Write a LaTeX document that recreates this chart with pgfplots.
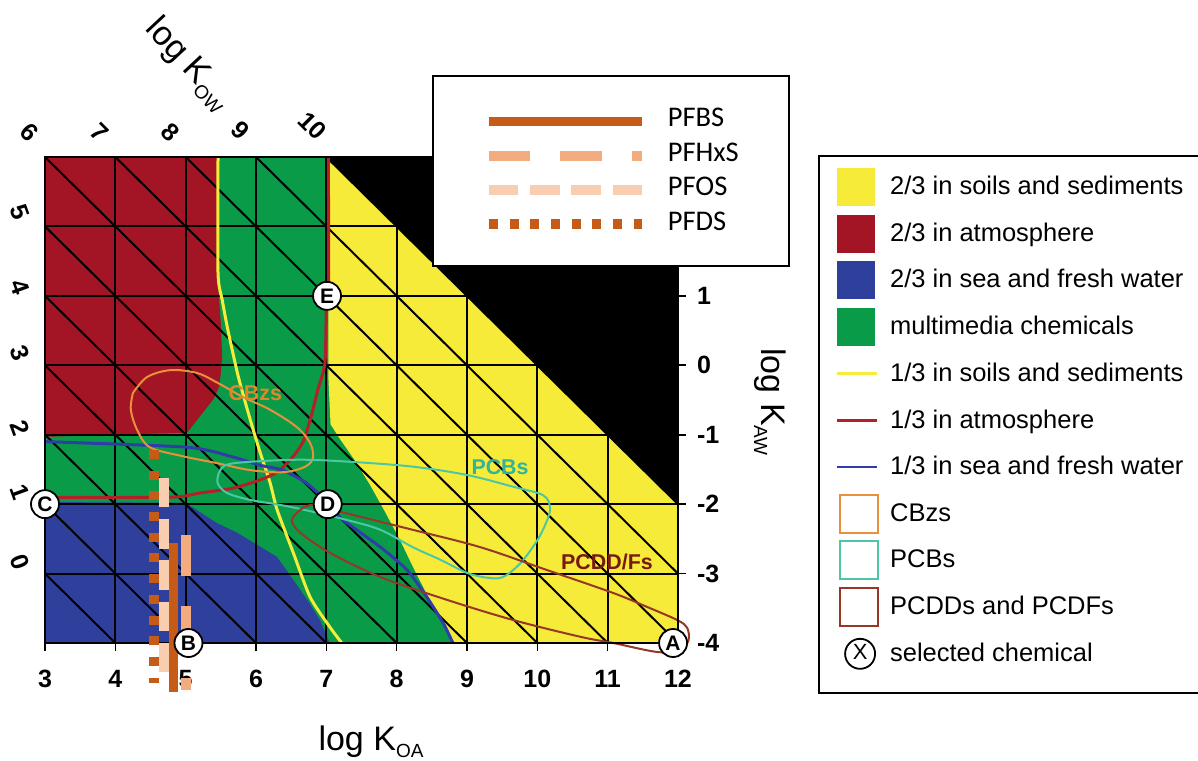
\documentclass[border=0pt]{standalone}
\usepackage{pgfplots}
\pgfplotsset{compat=1.18}
\usepackage{fontspec}
\setmainfont{Liberation Sans}
\newfontfamily\carlito{Carlito}

\definecolor{cyel}{RGB}{246,235,56}
\definecolor{cred}{RGB}{163,20,36}
\definecolor{cblue}{RGB}{46,64,155}
\definecolor{cgreen}{RGB}{10,155,72}
\definecolor{lyel}{RGB}{245,236,60}
\definecolor{lred}{RGB}{178,32,40}
\definecolor{lblue}{RGB}{48,60,170}
\definecolor{ccbz}{RGB}{232,145,60}
\definecolor{cpcb}{RGB}{76,199,166}
\definecolor{cpcdd}{RGB}{150,55,40}
\definecolor{tcbz}{RGB}{222,135,45}
\definecolor{tpcb}{RGB}{50,180,155}
\definecolor{tpcdd}{RGB}{120,25,20}
\definecolor{pfdark}{RGB}{198,90,23}
\definecolor{pfmid}{RGB}{242,172,128}
\definecolor{pflight}{RGB}{248,205,176}

\newcommand{\lf}{\fontsize{10.5}{11}\selectfont\bfseries}
\newcommand{\kf}{\fontsize{12.5}{14}\selectfont\bfseries}
\pgfplotsset{
  gridl/.style={black, line width=1pt, forget plot},
  legfill/.style={legend image code/.code={\path[draw=none,fill=none] (0pt,-11.675pt) rectangle (26.5pt,11.675pt); \fill[#1, draw=none] (0pt,-9.5pt) rectangle (19pt,9.5pt);}},
  legline/.style={legend image code/.code={\path[draw=none,fill=none] (0pt,-11.675pt) rectangle (26.5pt,11.675pt); \draw[#1, fill=none, line width=1.3pt] (0pt,0pt) -- (20pt,0pt);}},
  legopen/.style={legend image code/.code={\path[draw=none,fill=none] (0pt,-11.675pt) rectangle (26.5pt,11.675pt); \draw[#1, fill=none, line width=1pt] (1.5pt,-9.5pt) rectangle (20.5pt,9.5pt);}},
}

\begin{document}
\begin{tikzpicture}
\useasboundingbox (-22.5pt,-58.5pt) rectangle (576.5pt,321.5pt);
\begin{axis}[
  at={(0pt,0pt)}, anchor=south west,
  scale only axis, width=316.5pt, height=243pt,
  xmin=3, xmax=12, ymin=-4, ymax=3,
  clip=false, axis on top,
  axis line style={line width=1.2pt},
  xtick={3,4,5,6,7,8,9,10,11,12}, ytick={-4,-3,-2,-1,0,1},
  xtick pos=left, ytick pos=right,
  tick align=outside,
  major tick length=4pt,
  tick style={line width=0.8pt, black},
  tick label style={font=\kf},
  xticklabel style={yshift=-6pt},
  yticklabel style={xshift=2pt},
  /pgf/number format/assume math mode=true,
  legend cell align=left,
  legend style={at={(1.2212,1.0041)}, anchor=north west, draw=black, line width=0.8pt, fill=white,
    inner xsep=8.5pt, inner ysep=3pt, row sep=0pt, column sep=0pt,
    font=\fontsize{12.75}{14}\selectfont, nodes={inner sep=0pt}},
]
% regions
\addplot[fill=cgreen, draw=none, forget plot] coordinates {(3,-4) (12,-4) (12,3) (3,3)} -- cycle;
\addplot[fill=cred, draw=none, forget plot] coordinates {(3,3) (5.45,3) (5.46,1.2) (5.50,0.6) (5.52,0.1) (5.48,-0.3) (5.40,-0.48) (5.20,-0.74) (5.02,-0.97) (3,-1.03)} -- cycle;
\addplot[fill=cblue, draw=none, forget plot] coordinates {(3,-4) (3,-1.97) (5.0,-1.98) (5.44,-2.27) (5.73,-2.41) (6.30,-2.76) (6.53,-3.09) (6.73,-3.38) (6.91,-3.67) (7.05,-4)} -- cycle;
\addplot[fill=cyel, draw=none, forget plot] coordinates {(7.03,3) (12,3) (12,-4) (8.80,-4) (8.66,-3.71) (8.43,-3.30) (8.23,-2.90) (8.05,-2.52) (7.84,-2.12) (7.62,-1.72) (7.40,-1.36) (7.20,-1.07) (7.06,-0.85) (7.03,-0.2)} -- cycle;
\addplot[fill=black, draw=none, forget plot] coordinates {(7,3) (12,3) (12,-2)} -- cycle;
% grid
\addplot[gridl] coordinates {(4,-4) (4,3)};
\addplot[gridl] coordinates {(5,-4) (5,3)};
\addplot[gridl] coordinates {(6,-4) (6,3)};
\addplot[gridl] coordinates {(7,-4) (7,3)};
\addplot[gridl] coordinates {(8,-4) (8,2)};
\addplot[gridl] coordinates {(9,-4) (9,1)};
\addplot[gridl] coordinates {(10,-4) (10,0)};
\addplot[gridl] coordinates {(11,-4) (11,-1)};
\addplot[gridl] coordinates {(3,-3) (12,-3)};
\addplot[gridl] coordinates {(3,-2) (12,-2)};
\addplot[gridl] coordinates {(3,-1) (11,-1)};
\addplot[gridl] coordinates {(3,0) (10,0)};
\addplot[gridl] coordinates {(3,1) (9,1)};
\addplot[gridl] coordinates {(3,2) (8,2)};
\addplot[gridl] coordinates {(3,-3) (4,-4)};
\addplot[gridl] coordinates {(3,-2) (5,-4)};
\addplot[gridl] coordinates {(3,-1) (6,-4)};
\addplot[gridl] coordinates {(3,0) (7,-4)};
\addplot[gridl] coordinates {(3,1) (8,-4)};
\addplot[gridl] coordinates {(3,2) (9,-4)};
\addplot[gridl] coordinates {(3,3) (10,-4)};
\addplot[gridl] coordinates {(4,3) (11,-4)};
\addplot[gridl] coordinates {(5,3) (12,-4)};
\addplot[gridl] coordinates {(6,3) (12,-3)};
\addplot[gridl] coordinates {(7,3) (12,-2)};
% one-third lines
\addplot[lyel, line width=1.5pt, smooth, tension=0.4, forget plot] coordinates {(5.46,3) (5.46,1.33) (5.52,0.94) (5.60,0.51) (5.75,-0.17) (5.92,-0.79) (6.06,-1.26) (6.20,-1.69) (6.30,-2.08) (6.53,-2.70) (6.77,-3.34) (7.05,-3.77) (7.22,-4)};
\addplot[lred, line width=1.5pt, smooth, tension=0.4, forget plot] coordinates {(7.03,3) (7.03,1) (7.0,0.80) (6.98,0.03) (6.88,-0.35) (6.77,-0.79) (6.66,-1.12) (6.49,-1.36) (6.30,-1.54) (6.06,-1.65) (5.67,-1.77) (5.20,-1.84) (4.78,-1.90) (3,-1.90)};
\addplot[lblue, line width=1.5pt, smooth, tension=0.4, forget plot] coordinates {(3,-1.10) (5.02,-1.18) (5.67,-1.32) (6.06,-1.44) (6.38,-1.51) (6.71,-1.69) (6.94,-1.90) (7.10,-2.08) (7.24,-2.23) (7.77,-2.62) (8.15,-2.95) (8.43,-3.34) (8.66,-3.71) (8.80,-4)};
% contours
\addplot[ccbz, line width=1pt, smooth, tension=0.55, forget plot] coordinates {(4.25,-0.40) (4.45,-0.17) (4.78,-0.07) (5.16,-0.11) (5.45,-0.25) (5.82,-0.46) (6.20,-0.64) (6.58,-0.89) (6.77,-1.12) (6.81,-1.33) (6.70,-1.46) (6.39,-1.54) (5.92,-1.51) (5.45,-1.41) (4.96,-1.31) (4.49,-1.18) (4.31,-0.93) (4.22,-0.64) (4.25,-0.40)};
\addplot[cpcb, line width=1pt, smooth, tension=0.55, forget plot] coordinates {(5.46,-1.59) (5.56,-1.44) (5.92,-1.39) (6.63,-1.36) (7.34,-1.39) (8.23,-1.46) (9.00,-1.58) (9.66,-1.75) (10.08,-1.87) (10.18,-2.04) (10.14,-2.23) (10.00,-2.52) (9.76,-2.85) (9.51,-3.05) (9.29,-3.06) (9.00,-2.99) (8.62,-2.80) (8.23,-2.62) (7.77,-2.37) (7.30,-2.23) (6.81,-2.11) (6.34,-2.01) (5.92,-1.94) (5.59,-1.84) (5.46,-1.71) (5.46,-1.59)};
\addplot[cpcdd, line width=1pt, smooth, tension=0.55, forget plot] coordinates {(6.63,-2.08) (6.81,-2.01) (7.20,-2.11) (8.23,-2.37) (9.19,-2.62) (10.14,-2.95) (11.08,-3.28) (11.56,-3.48) (11.99,-3.67) (12.13,-3.78) (12.15,-3.96) (12.03,-4.10) (11.71,-4.13) (11.08,-4.00) (10.61,-3.91) (9.66,-3.67) (8.72,-3.38) (7.77,-3.05) (7.05,-2.70) (6.63,-2.41) (6.51,-2.23) (6.63,-2.08)};
% contour labels
\node[font=\fontsize{10.7}{12}\selectfont\bfseries, text=tcbz] at (axis cs:5.99,-0.40) {CBzs};
\node[font=\fontsize{10.7}{12}\selectfont\bfseries, text=tpcb] at (axis cs:9.47,-1.46) {PCBs};
\node[font=\fontsize{10.7}{12}\selectfont\bfseries, text=tpcdd] at (axis cs:10.99,-2.83) {PCDD/Fs};
% KOW labels
\node[rotate=-45, font=\kf] at (axis cs:2.78,3.36) {6};
\node[rotate=-45, font=\kf] at (axis cs:3.78,3.36) {7};
\node[rotate=-45, font=\kf] at (axis cs:4.78,3.36) {8};
\node[rotate=-45, font=\kf] at (axis cs:5.78,3.38) {9};
\node[rotate=-45, font=\kf] at (axis cs:6.80,3.45) {10};
\node[rotate=-70, font=\kf] at (axis cs:2.645,2.20) {5};
\node[rotate=-70, font=\kf] at (axis cs:2.645,1.12) {4};
\node[rotate=-70, font=\kf] at (axis cs:2.645,0.18) {3};
\node[rotate=-70, font=\kf] at (axis cs:2.645,-0.90) {2};
\node[rotate=-70, font=\kf] at (axis cs:2.645,-1.82) {1};
\node[rotate=-70, font=\kf] at (axis cs:2.645,-2.83) {0};
% axis titles
\node[font=\fontsize{17}{18}\selectfont] at (axis description cs:0.515,-0.2037) {log K\raisebox{-3.5pt}{\fontsize{9.5}{10}\selectfont OA}};
\node[rotate=-90, font=\fontsize{17}{18}\selectfont] at (axis description cs:1.1453,0.4959) {log K\raisebox{-3.5pt}{\fontsize{9.5}{10}\selectfont AW}};
\node[rotate=-47, font=\fontsize{17}{18}\selectfont] at (axis description cs:0.226,1.191) {log K\raisebox{-3.5pt}{\fontsize{9.5}{10}\selectfont OW}};
% legend
\addlegendimage{legend image code/.code={\path[draw=none,fill=none] (0pt,-11.675pt) rectangle (26.5pt,12.5pt); \fill[cyel, draw=none] (0pt,-9.5pt) rectangle (19pt,9.5pt);}}
\addlegendentry{\makebox[170pt][l]{2/3 in soils and sediments}}
\addlegendimage{legfill=cred}
\addlegendentry{2/3 in atmosphere}
\addlegendimage{legfill=cblue}
\addlegendentry{2/3 in sea and fresh water}
\addlegendimage{legfill=cgreen}
\addlegendentry{multimedia chemicals}
\addlegendimage{legline=lyel}
\addlegendentry{1/3 in soils and sediments}
\addlegendimage{legline=lred}
\addlegendentry{1/3 in atmosphere}
\addlegendimage{legline=lblue}
\addlegendentry{1/3 in sea and fresh water}
\addlegendimage{legopen=ccbz}
\addlegendentry{CBzs}
\addlegendimage{legopen=cpcb}
\addlegendentry{PCBs}
\addlegendimage{legopen=cpcdd}
\addlegendentry{PCDDs and PCDFs}
\addlegendimage{legend image code/.code={\path[draw=none,fill=none] (0pt,-16.5pt) rectangle (26.5pt,11.675pt); \draw[black, line width=0.9pt, fill=white] (11.5pt,0pt) circle (7.5pt); \node[anchor=center, inner sep=0pt, draw=none, fill=none, font=\fontsize{11}{12}\selectfont] at (11.5pt,0pt) {X};}}
\addlegendentry{selected chemical}
\end{axis}

\begin{axis}[
  at={(0pt,0pt)}, anchor=south west,
  scale only axis, width=316.5pt, height=243pt,
  xmin=3, xmax=12, ymin=-4, ymax=3,
  hide axis, clip=false,
  legend cell align=left,
  legend image code/.code={\path[draw=none,fill=none] (-18pt,-8.6pt) rectangle (89.5pt,8.6pt); \draw[#1] (0pt,-1pt) -- (76.5pt,-1pt);},
  legend style={at={(0.6114,1.1687)}, anchor=north west, draw=black, line width=0.8pt, fill=white,
    inner xsep=10pt, inner ysep=13.1pt, row sep=0pt, column sep=0pt,
    font=\carlito\fontsize{14.25}{16}\selectfont, nodes={inner sep=0pt}},
]
% selected chemicals
\addplot[only marks, mark=*, mark size=7pt, mark options={fill=white, draw=black, line width=0.9pt}, forget plot] coordinates {(11.93,-4) (5.04,-4) (3,-2) (7.02,-2) (7.01,1)};
\addplot[only marks, mark=text, text mark={\lf A}, forget plot] coordinates {(11.93,-4)};
\addplot[only marks, mark=text, text mark={\lf B}, forget plot] coordinates {(5.04,-4)};
\addplot[only marks, mark=text, text mark={\lf C}, forget plot] coordinates {(3,-2)};
\addplot[only marks, mark=text, text mark={\lf D}, forget plot] coordinates {(7.02,-2)};
\addplot[only marks, mark=text, text mark={\lf E}, forget plot] coordinates {(7.01,1)};
% PF substances
\addplot[pfdark, line width=4.5pt, line cap=butt] coordinates {(4.83,-2.56) (4.83,-4.71)};
\addlegendentry{\makebox[50.5pt][l]{PFBS}}
\addplot[pfmid, line width=5pt, line cap=butt, dash pattern=on 20.8pt off 15pt] coordinates {(5.01,-2.44) (5.01,-4.68)};
\addlegendentry{PFHxS}
\addplot[pflight, line width=5pt, line cap=butt, dash pattern=on 14.75pt off 5.875pt] coordinates {(4.69,-1.62) (4.69,-4.43)};
\addlegendentry{PFOS}
\addplot[pfdark, line width=5pt, line cap=butt, dash pattern=on 4.5pt off 5.85pt] coordinates {(4.545,-1.22) (4.545,-4.58)};
\addlegendentry{PFDS}
\end{axis}
\end{tikzpicture}
\end{document}
